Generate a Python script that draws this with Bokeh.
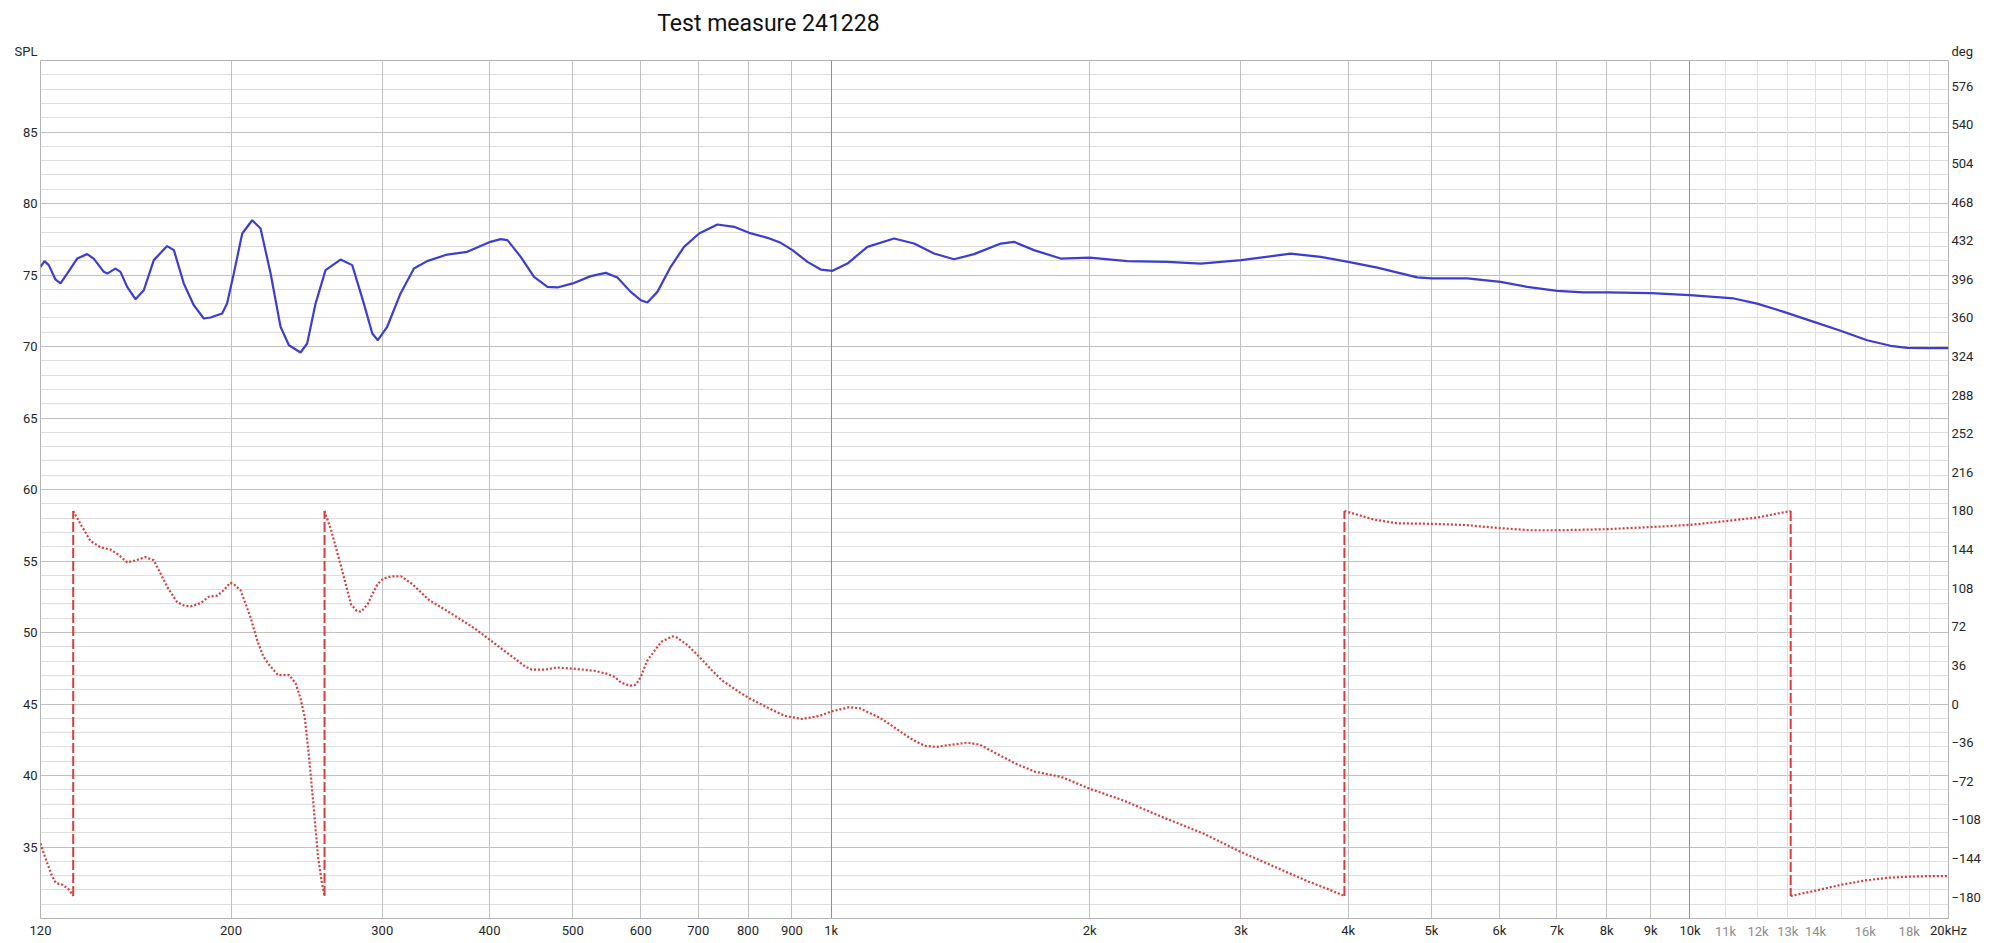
from bokeh.plotting import figure
from bokeh.models import Range1d, LinearAxis, LogAxis, FixedTicker, Grid, Label
from bokeh.embed import file_html
from bokeh.resources import INLINE

TITLE = "Test measure 241228"

# SPL (blue, left axis, dB)
spl_freq = [120, 121.3, 122.7, 124.9, 126.6, 128.9, 132.4, 136.0, 138.4, 142.2,
            143.5, 146.7, 148.7, 151.4, 154.8, 158.3, 162.6, 168.5, 171.6, 176.2,
            181.0, 185.9, 189.3, 195.3, 197.9, 201.5, 206.1, 211.7, 216.5, 222.4,
            228.4, 233.6, 241.0, 245.3, 250.9, 257.7, 268.3, 276.8, 285.6, 292.1,
            296.5, 304.0, 315.1, 326.6, 338.4, 357.1, 376.8, 401.0, 412.1, 419.7,
            434.9, 450.7, 467.2, 479.8, 500, 524.8, 546.3, 563.6, 584.1, 600.0,
            610.8, 627.4, 650.2, 673.9, 701.6, 737.0, 770.7, 802.3, 842.7, 873.4,
            901.2, 938.2, 972.3, 1003.3, 1044.4, 1101.8, 1183.4, 1248.6, 1317.4, 1389.9,
            1466.5, 1575.5, 1632, 1722, 1850, 2000, 2212, 2462, 2693, 3002,
            3427, 3715, 4000, 4324, 4813, 5000, 5502, 6019, 6462, 7003,
            7521, 8007, 9000, 9997, 11246, 11972, 12862, 13941, 14973, 16082,
            17120, 17903, 18888, 20000]
spl_db = [75.57, 75.97, 75.69, 74.69, 74.41, 75.1, 76.15, 76.46, 76.15, 75.22,
          75.1, 75.45, 75.22, 74.17, 73.31, 73.94, 76.04, 77.02, 76.74, 74.41,
          72.89, 71.96, 72.03, 72.31, 73.0, 75.1, 77.9, 78.83, 78.25, 75.1,
          71.38, 70.09, 69.58, 70.21, 73.0, 75.34, 76.08, 75.69, 73.0, 70.91,
          70.44, 71.38, 73.71, 75.45, 75.97, 76.43, 76.62, 77.32, 77.51, 77.44,
          76.27, 74.87, 74.17, 74.13, 74.41, 74.92, 75.15, 74.83, 73.82, 73.24,
          73.08, 73.82, 75.57, 76.97, 77.9, 78.53, 78.37, 77.95, 77.6, 77.25,
          76.74, 75.92, 75.38, 75.29, 75.8, 76.97, 77.55, 77.2, 76.5, 76.1,
          76.46, 77.2, 77.32, 76.74, 76.15, 76.22, 75.97, 75.92, 75.8, 76.04,
          76.5, 76.27, 75.92, 75.52, 74.83, 74.76, 74.76, 74.52, 74.17, 73.89,
          73.78, 73.78, 73.73, 73.59, 73.36, 73.0, 72.42, 71.72, 71.1, 70.44,
          70.05, 69.91, 69.88, 69.88]

# Phase (red, right axis, deg); a repeated frequency marks a +/-180 wrap
phase_freq = [120, 121.5, 123.7, 125.1, 127.3, 129.5, 131,
              131, 134, 137.2, 141, 144.8, 148, 151.4, 155, 159, 162.6,
              165.5, 168.6, 173.1, 176, 179.4, 184.3, 188.4, 192.7, 196, 199.7,
              202, 205.2, 210.7, 214.6, 218.2, 221.3, 226.8, 233.8, 237.9, 241,
              243.7, 246.6, 249.6, 252.6, 255, 257,
              257, 261.6, 268.7, 275.9, 280, 283.4, 288.5, 292, 296.3, 301,
              307.3, 315.6, 325, 340, 355, 370, 385, 400, 414, 428.5,
              440, 448.2, 464.5, 478.7, 500, 530, 549, 560, 569, 583,
              592, 600, 610, 619, 634, 653, 661, 680, 702, 725,
              746, 782, 800, 841, 882, 925, 970, 1000, 1049, 1080,
              1106, 1140, 1175, 1210, 1248, 1285, 1325, 1380, 1441, 1490,
              1530, 1590, 1644, 1725, 1853, 2000, 2190, 2439, 2717, 3000,
              3288, 3580, 3800, 3959,
              3959, 4000, 4284, 4561, 5000, 5453, 6000, 6522, 7000, 8000,
              9000, 10000, 11000, 12000, 13100,
              13100, 14000, 15000, 16000, 17000, 18000, 19000, 20000]
phase_deg = [-130, -143, -160, -167, -168.5, -173, -179,
             180, 166, 152, 146, 144, 139, 132, 134, 137, 134,
             122, 109, 95, 92, 91, 94, 100, 101, 106, 113,
             111, 106, 81, 59, 44, 37, 27, 27, 19, 5,
             -12, -50, -96, -143, -165, -179,
             180, 162, 128, 93, 87, 86, 93, 102, 112, 117,
             119, 119, 112, 97, 88, 79, 70, 60, 51, 42,
             35, 32, 32, 34, 33, 31, 28, 25, 20, 17,
             18, 25, 40, 47, 58, 63, 62, 55, 44, 32,
             22, 11, 6, -3, -11, -14, -11, -7, -3, -4,
             -8, -13, -20, -27, -34, -39, -40, -38, -36, -38,
             -43, -50, -56, -63, -68, -79, -90, -106, -121, -138,
             -152, -165, -173, -179,
             180, 179, 172, 168.5, 168, 167, 164, 162, 162, 163,
             165, 167, 170.5, 174, 180,
             -179, -174, -168.5, -164.5, -162, -161, -160.5, -160.5]

x_ticks_main = [120, 200, 300, 400, 500, 600, 700, 800, 900, 1000,
                2000, 3000, 4000, 5000, 6000, 7000, 8000, 9000, 10000, 20000]
x_labels_main = ["120", "200", "300", "400", "500", "600", "700", "800", "900", "1k",
                 "2k", "3k", "4k", "5k", "6k", "7k", "8k", "9k", "10k", "20kHz"]
x_ticks_faint = [11000, 12000, 13000, 14000, 16000, 18000]
x_labels_faint = ["11k", "12k", "13k", "14k", "16k", "18k"]
grid_mid = [200, 300, 400, 500, 600, 700, 800, 900, 2000, 3000, 4000, 5000, 6000, 7000, 8000, 9000]
grid_dark = [1000, 10000]
grid_light = [11000, 12000, 13000, 14000, 15000, 16000, 17000, 18000, 19000]
spl_ticks = list(range(35, 90, 5))
spl_minor = [v for v in range(31, 90) if v % 5 != 0]
deg_ticks = list(range(-180, 577, 36))

FONT = "Roboto"
TEXT_COL = "#262626"
BLUE = "#3d3dd2"
RED = "#d83c3c"

p = figure(width=2000, height=943, x_axis_type="log",
           x_range=Range1d(120, 20000), y_range=Range1d(30, 90),
           x_axis_location=None, output_backend="svg", toolbar_location=None,
           min_border_left=40, min_border_right=52, min_border_top=60, min_border_bottom=25)
p.extra_y_ranges = {"deg": Range1d(-200, 600)}
p.outline_line_color = "#b4b4b4"
p.outline_line_width = 1
p.ygrid.visible = False
p.background_fill_color = "white"
p.border_fill_color = "white"

def add_grid(dim, ticks, color):
    p.add_layout(Grid(dimension=dim, ticker=FixedTicker(ticks=ticks),
                      grid_line_color=color, grid_line_width=1))

add_grid(1, spl_minor, "#dedede")
add_grid(1, spl_ticks, "#c0c0c0")
add_grid(0, grid_light, "#e0e0e0")
add_grid(0, grid_mid, "#c2c2c2")
add_grid(0, grid_dark, "#8f8f8f")

def style(a, standoff, color=TEXT_COL):
    a.axis_line_color = None
    a.major_tick_line_color = None
    a.minor_tick_line_color = None
    a.major_tick_out = 0
    a.major_tick_in = 0
    a.minor_tick_out = 0
    a.minor_tick_in = 0
    a.major_label_standoff = standoff
    a.major_label_text_font = FONT
    a.major_label_text_font_size = "13px"
    a.major_label_text_color = color

lax = p.yaxis[0]
lax.ticker = FixedTicker(ticks=spl_ticks)
style(lax, 3)

rax = LinearAxis(y_range_name="deg", ticker=FixedTicker(ticks=deg_ticks))
style(rax, 3)
p.add_layout(rax, "right")

bax = LogAxis(ticker=FixedTicker(ticks=x_ticks_main),
              major_label_overrides={t: s for t, s in zip(x_ticks_main, x_labels_main)})
style(bax, 4)
p.add_layout(bax, "below")
fax = LogAxis(ticker=FixedTicker(ticks=x_ticks_faint),
              major_label_overrides={t: s for t, s in zip(x_ticks_faint, x_labels_faint)})
style(fax, -17, "#8c8c8c")
p.add_layout(fax, "below")

# Curves
p.line(spl_freq, spl_db, line_color=BLUE, line_width=2.2)

seg_x, seg_y = [[phase_freq[0]]], [[phase_deg[0]]]
wx, wy0, wy1 = [], [], []
for i in range(1, len(phase_freq)):
    if phase_freq[i] == phase_freq[i - 1]:
        wx.append(phase_freq[i]); wy0.append(phase_deg[i - 1]); wy1.append(phase_deg[i])
        seg_x.append([]); seg_y.append([])
    seg_x[-1].append(phase_freq[i]); seg_y[-1].append(phase_deg[i])
p.multi_line(seg_x, seg_y, y_range_name="deg", line_color=RED, line_width=2.2, line_dash="2 2")
p.segment(x0=wx, y0=wy0, x1=wx, y1=wy1, y_range_name="deg", line_color=RED,
          line_width=2, line_dash="10 3")

# texts (kept in the top border panel, positioned in data units)
p.add_layout(Label(x=845, y=92.59, text=TITLE, text_align="center", text_baseline="middle",
                   text_font=FONT, text_font_size="23px", text_color="#111111"), "above")
p.add_layout(Label(x=119.0, y=90.63, text="SPL", text_align="right", text_baseline="middle",
                   text_font=FONT, text_font_size="13px", text_color=TEXT_COL), "above")
p.add_layout(Label(x=20161, y=90.63, text="deg", text_align="left", text_baseline="middle",
                   text_font=FONT, text_font_size="13px", text_color=TEXT_COL), "above")

open("out.html", "w").write(file_html(p, INLINE))
